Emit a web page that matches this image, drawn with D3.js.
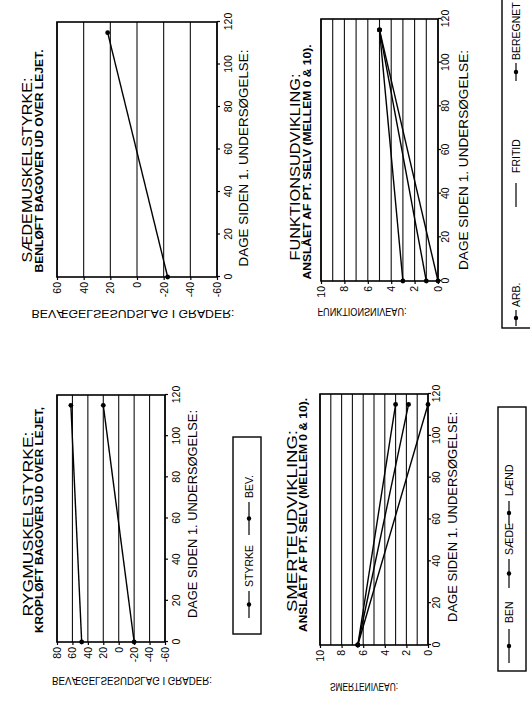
<!DOCTYPE html>
<html>
<head>
<meta charset="utf-8">
<script src="https://cdnjs.cloudflare.com/ajax/libs/d3/7.8.5/d3.min.js"></script>
<style>
body { margin: 0; background: #fff; }
svg { display: block; font-family: 'Liberation Sans', Arial, sans-serif; }
</style>
</head>
<body>
<svg id="chart" width="530" height="711"></svg>
<script>
// data (days since first exam)
var days = [0, 115];
var dayTicks = [0, 20, 40, 60, 80, 100, 120];

var rygStyrke = [48, 62];
var rygBev = [-20, 20];
var rygTicks = [80, 60, 40, 20, 0, -20, -40, -60];

var saedeBev = [-23, 22];
var saedeTicks = [60, 40, 20, 0, -20, -40, -60];

var smerteBen = [6.5, 3];
var smerteSaede = [6.5, 1.8];
var smerteLaend = [6.5, 0];

var funkArb = [3, 5];
var funkFritid = [1, 5];
var funkBeregnet = [0, 5];

var nivTicks = [10, 8, 6, 4, 2, 0];
var nivGrid = [0, 1, 2, 3, 4, 5, 6, 7, 8, 9, 10];

var svg = d3.select('svg#chart');

// the page is scanned lying on its side: draw upright, then turn it
var page = svg.append('g')
	.attr('transform', 'translate(0,711) rotate(-90)');

function panel(p) {
	var x = d3.scaleLinear().domain([0, 120]).range([p.u0, p.u1]);
	var y = d3.scaleLinear().domain(p.domain).range([p.vBottom, p.vTop]);
	var g = page.append('g');

	g.selectAll('line.grid')
		.data(p.grid)
		.enter()
		.append('line')
		.attr('class', 'grid')
		.attr('x1', x(0))
		.attr('x2', x(120))
		.attr('y1', function (d) { return y(d); })
		.attr('y2', function (d) { return y(d); })
		.style('stroke', '#111')
		.style('stroke-width', 1.1);

	g.append('rect')
		.attr('x', x(0))
		.attr('y', p.vTop)
		.attr('width', x(120) - x(0))
		.attr('height', p.vBottom - p.vTop)
		.style('fill', 'none')
		.style('stroke', '#000')
		.style('stroke-width', 1.6);

	var xAxis = g.append('g')
		.attr('transform', 'translate(0,' + p.vBottom + ')')
		.call(d3.axisBottom(x).tickValues(dayTicks).tickSize(3).tickPadding(p.xPad)
			.tickFormat(function (d) { return String(d); }));

	var yAxis = g.append('g')
		.attr('transform', 'translate(' + x(0) + ',0)')
		.call(d3.axisLeft(y).tickValues(p.ticks).tickSize(3).tickPadding(2)
			.tickFormat(function (d) { return String(d); }));

	[xAxis, yAxis].forEach(function (a) {
		a.select('.domain').remove();
		a.selectAll('line').style('stroke', '#000').style('stroke-width', 1.2);
		a.selectAll('text')
			.style('font-family', "'Liberation Sans', Arial, sans-serif")
			.style('font-size', '10.5px')
			.style('fill', '#000');
	});

	var line = d3.line()
		.x(function (d, i) { return x(days[i]); })
		.y(function (d) { return y(d); });

	p.series.forEach(function (s) {
		g.append('path')
			.datum(s)
			.attr('d', line)
			.style('fill', 'none')
			.style('stroke', '#000')
			.style('stroke-width', 1.4);

		g.selectAll(null)
			.data(s)
			.enter()
			.append('circle')
			.attr('cx', function (d, i) { return x(days[i]); })
			.attr('cy', function (d) { return y(d); })
			.attr('r', 2.4)
			.style('fill', '#000');
	});

	g.append('text')
		.text(p.title)
		.attr('x', p.titleU)
		.attr('y', p.titleV)
		.attr('textLength', p.titleLen)
		.attr('lengthAdjust', 'spacingAndGlyphs')
		.style('text-anchor', 'middle')
		.style('font-size', '15px');

	g.append('text')
		.text(p.sub)
		.attr('x', p.subU)
		.attr('y', p.subV)
		.attr('textLength', p.subLen)
		.attr('lengthAdjust', 'spacingAndGlyphs')
		.style('text-anchor', 'middle')
		.style('font-size', '10px')
		.style('font-weight', 'bold');

	g.append('text')
		.text('DAGE SIDEN 1. UNDERSØGELSE:')
		.attr('x', p.xTitleU)
		.attr('y', p.xTitleV)
		.attr('textLength', p.xTitleLen)
		.attr('lengthAdjust', 'spacingAndGlyphs')
		.style('text-anchor', 'middle')
		.style('font-size', '12.5px');

	// y axis title comes out mirrored in the scan
	svg.append('text')
		.text(p.yTitle)
		.attr('transform', 'translate(' + p.yTitleX + ',' + p.yTitleY + ') scale(1,-1)')
		.attr('textLength', p.yTitleLen)
		.attr('lengthAdjust', 'spacingAndGlyphs')
		.style('text-anchor', 'middle')
		.style('font-size', '10.5px');
}

function legend(l) {
	var g = page.append('g');
	g.append('rect')
		.attr('x', l.u0)
		.attr('y', l.v0)
		.attr('width', l.u1 - l.u0)
		.attr('height', l.v1 - l.v0)
		.style('fill', 'none')
		.style('stroke', '#000')
		.style('stroke-width', 1.4);

	var items = g.selectAll('g.item')
		.data(l.items)
		.enter()
		.append('g')
		.attr('class', 'item');

	items.append('line')
		.attr('x1', function (d) { return d.a; })
		.attr('x2', function (d) { return d.b; })
		.attr('y1', l.mid)
		.attr('y2', l.mid)
		.style('stroke', '#000')
		.style('stroke-width', 1.2);

	items.filter(function (d) { return d.dot; })
		.append('circle')
		.attr('cx', function (d) { return (d.a + d.b) / 2; })
		.attr('cy', l.mid)
		.attr('r', 2.2)
		.style('fill', '#000');

	items.append('text')
		.text(function (d) { return d.name; })
		.attr('x', function (d) { return d.t; })
		.attr('y', l.mid + 4)
		.style('font-size', '10.5px');
}

panel({
	u0: 69, u1: 316, vTop: 57, vBottom: 165, domain: [-60, 80],
	ticks: rygTicks, grid: rygTicks, xPad: 5,
	series: [rygStyrke, rygBev],
	title: 'RYGMUSKELSTYRKE:', titleU: 187, titleV: 33, titleLen: 185,
	sub: 'KROPLØFT BAGOVER UD OVER LEJET,', subU: 191, subV: 43, subLen: 226,
	xTitleU: 197, xTitleV: 197, xTitleLen: 208,
	yTitle: 'BEVÆGELSESUDSLAG I GRADER:', yTitleX: 132, yTitleY: 677, yTitleLen: 160
});

panel({
	u0: 434, u1: 689, vTop: 57, vBottom: 217, domain: [-60, 60],
	ticks: saedeTicks, grid: saedeTicks, xPad: 5,
	series: [saedeBev],
	title: 'SÆDEMUSKELSTYRKE:', titleU: 541, titleV: 32, titleLen: 185,
	sub: 'BENLØFT BAGOVER UD OVER LEJET.', subU: 550, subV: 43, subLen: 223,
	xTitleU: 553, xTitleV: 248, xTitleLen: 217,
	yTitle: 'BEVÆGELSESUDSLAG I GRADER:', yTitleX: 133, yTitleY: 310, yTitleLen: 203
});

panel({
	u0: 66, u1: 317, vTop: 320, vBottom: 428, domain: [0, 10],
	ticks: nivTicks, grid: nivGrid, xPad: 2,
	series: [smerteBen, smerteSaede, smerteLaend],
	title: 'SMERTEUDVIKLING:', titleU: 190, titleV: 297, titleLen: 182,
	sub: 'ANSLÅET AF PT. SELV (MELLEM 0 & 10).', subU: 196, subV: 307, subLen: 234,
	xTitleU: 194, xTitleV: 457, xTitleLen: 210,
	yTitle: 'SMERTENIVEAU:', yTitleX: 364, yTitleY: 683, yTitleLen: 68
});

panel({
	u0: 430, u1: 692, vTop: 321, vBottom: 438, domain: [0, 10],
	ticks: nivTicks, grid: nivGrid, xPad: 1,
	series: [funkArb, funkFritid, funkBeregnet],
	title: 'FUNKTIONSUDVIKLING:', titleU: 544, titleV: 300, titleLen: 187,
	sub: 'ANSLÅET AF PT. SELV (MELLEM 0 & 10).', subU: 549, subV: 311, subLen: 235,
	xTitleU: 551, xTitleV: 468, xTitleLen: 220,
	yTitle: 'FUNKTIONSNIVEAU:', yTitleX: 362, yTitleY: 308, yTitleLen: 89
});

legend({
	u0: 77, u1: 274, v0: 233, v1: 261, mid: 249,
	items: [
		{ name: 'STYRKE', a: 93, b: 120, t: 124, dot: true },
		{ name: 'BEV.', a: 176, b: 209, t: 213, dot: true }
	]
});

legend({
	u0: 40, u1: 304, v0: 498, v1: 526, mid: 509,
	items: [
		{ name: 'BEN', a: 48, b: 82, t: 88, dot: true },
		{ name: 'SÆDE', a: 123, b: 152, t: 156, dot: true },
		{ name: 'LÆND', a: 186, b: 210, t: 215, dot: true }
	]
});

legend({
	u0: 383, u1: 730, v0: 502, v1: 545, mid: 516,
	items: [
		{ name: 'ARB.', a: 385, b: 401, t: 404, dot: true },
		{ name: 'FRITID', a: 504, b: 528, t: 538, dot: false },
		{ name: 'BEREGNET', a: 630, b: 648, t: 651, dot: true }
	]
});
</script>
</body>
</html>
